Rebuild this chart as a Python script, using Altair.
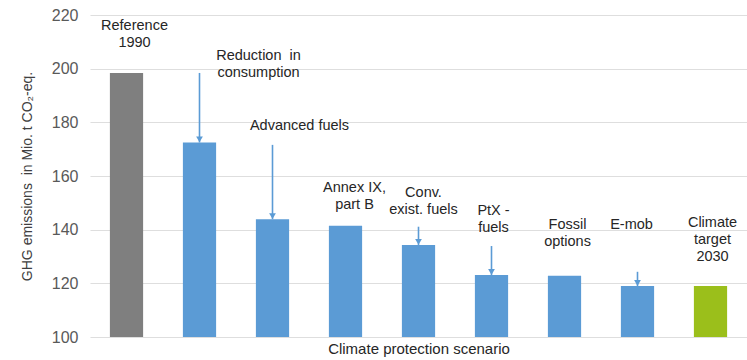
import altair as alt
import pandas as pd

# Scenario steps, left to right
scenarios = [
    "Reference 1990", "Reduction in consumption", "Advanced fuels",
    "Annex IX, part B", "Conv. exist. fuels", "PtX - fuels",
    "Fossil options", "E-mob", "Climate target 2030",
]
# GHG emissions per step (Mio. t CO2-eq.)
emissions = [198.4, 172.5, 143.9, 141.5, 134.3, 123.1, 122.8, 119.0, 119.0]
# Bar kind drives the fill colour
kinds = ["reference", "step", "step", "step", "step", "step", "step", "step", "target"]

# Label text shown above each bar (one entry per line)
label_lines = [
    ["Reference", "1990"],
    ["Reduction\u00a0 in", "consumption"],
    ["Advanced fuels"],
    ["Annex IX,", "part B"],
    ["Conv.", "exist. fuels"],
    ["PtX -", "fuels"],
    ["Fossil", "options"],
    ["E-mob"],
    ["Climate", "target", "2030"],
]
# Height (in axis units) of the first label line, and sideways shift in px
label_level = [215.9, 204.7, 178.6, 155.5, 153.7, 147.0, 141.7, 141.7, 142.5]
label_shift = [8, 59, 27, 9, 5, 2, 3, -6, 2]

# Arrows: which step they point at and where the shaft starts
arrow_steps = ["Reduction in consumption", "Advanced fuels", "Conv. exist. fuels",
               "PtX - fuels", "E-mob"]
arrow_from = [198.4, 171.6, 141.1, 133.9, 124.3]

bars = pd.DataFrame({"scenario": scenarios, "value": emissions, "kind": kinds})
end_of = dict(zip(scenarios, emissions))
arrows = pd.DataFrame({
    "scenario": arrow_steps,
    "start": arrow_from,
    "end": [end_of[s] for s in arrow_steps],
})

FONT = "Liberation Sans"
BLUE = "#5b9bd5"

x_enc = alt.X(
    "scenario:N", sort=scenarios,
    scale=alt.Scale(paddingInner=0.545, paddingOuter=0.2725),
    axis=alt.Axis(labels=False, ticks=False, domain=False,
                  title="Climate protection scenario",
                  titleFont=FONT, titleFontSize=15, titleFontWeight="normal",
                  titleColor="#262626", titlePadding=4),
)
y_scale = alt.Scale(domain=[100, 220], zero=False, nice=False)

bar_layer = alt.Chart(bars).mark_bar().encode(
    x=x_enc,
    y=alt.Y("value:Q", scale=y_scale,
            axis=alt.Axis(values=[100, 120, 140, 160, 180, 200, 220],
                          title="GHG emissions\u00a0 in Mio. t CO₂-eq.",
                          titleFont=FONT, titleFontSize=14, titleFontWeight="normal",
                          titleColor="#404040", titlePadding=17,
                          labelFont=FONT, labelFontSize=16, labelColor="#595959",
                          labelPadding=12, ticks=False, domain=False,
                          grid=True, gridColor="#dedede", gridWidth=1.2)),
    y2=alt.datum(100),
    color=alt.Color("kind:N",
                    scale=alt.Scale(domain=["reference", "step", "target"],
                                    range=["#7f7f7f", BLUE, "#9bbf1b"]),
                    legend=None),
)

shaft_layer = alt.Chart(arrows).mark_rule(color=BLUE, strokeWidth=1.6).encode(
    x=alt.X("scenario:N", sort=scenarios),
    y=alt.Y("start:Q"),
    y2=alt.Y2("end:Q"),
)

head_layer = alt.Chart(arrows).mark_point(
    shape="triangle-down", filled=True, color=BLUE, opacity=1, size=45, yOffset=-3
).encode(
    x=alt.X("scenario:N", sort=scenarios),
    y=alt.Y("end:Q"),
)

# One text layer per bar so each label can carry its own sideways shift
text_layers = []
for name, lines, level, shift in zip(scenarios, label_lines, label_level, label_shift):
    df = pd.DataFrame({"scenario": [name], "text": [lines], "level": [level]})
    text_layers.append(
        alt.Chart(df).mark_text(
            font=FONT, fontSize=14.5, color="#262626", align="center",
            baseline="middle", lineHeight=17, dx=shift,
        ).encode(
            x=alt.X("scenario:N", sort=scenarios),
            y=alt.Y("level:Q"),
            text="text",
        )
    )

chart = (
    alt.layer(bar_layer, shaft_layer, head_layer, *text_layers)
    .properties(
        width=657, height=322,
        autosize=alt.AutoSizeParams(type="none"),
        padding={"left": 90, "top": 15, "right": 0, "bottom": 23},
        background="white",
    )
    .configure_view(stroke=None)
)

chart.save("out.html", embed_options={"renderer": "svg", "actions": False})
